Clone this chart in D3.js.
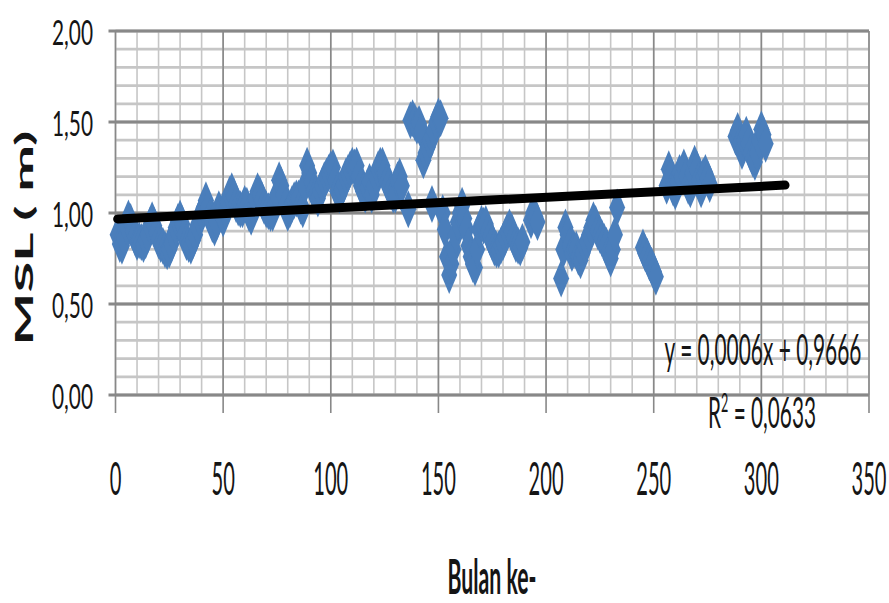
<!DOCTYPE html>
<html lang="id">
<head>
<meta charset="UTF-8">
<title>MSL per bulan</title>
<script src="https://d3js.org/d3.v7.min.js"></script>
<style>
  body { margin: 0; background: #fff; }
  svg { display: block; }
  text { font-family: Lato, "Liberation Sans", sans-serif; fill: #151515; }
</style>
</head>
<body>
<svg width="889" height="603"></svg>
<script>
// axis ticks
const xTicks = [0, 50, 100, 150, 200, 250, 300, 350];
const yTicks = [0, 0.5, 1.0, 1.5, 2.0];

// MSL (m) per month, in runs of consecutive months starting at startBulan[i]
const startBulan = [1, 136, 152, 193, 207, 245, 256, 288];
const msl1 = [
  0.88, 0.83, 0.82, 0.86, 0.93, 0.97, 0.95, 0.90, 0.87, 0.84, 0.85, 0.84,
  0.83, 0.85, 0.88, 0.93, 0.96, 0.93, 0.89, 0.85, 0.83, 0.82, 0.80, 0.79,
  0.80, 0.83, 0.88, 0.92, 0.95, 0.97, 0.94, 0.88, 0.84, 0.83, 0.82, 0.85,
  0.88, 0.93, 0.97, 1.00, 1.03, 1.07, 1.03, 0.98, 0.94, 0.92, 0.95, 1.02,
  1.00, 0.97, 1.01, 1.06, 1.10, 1.12, 1.09, 1.05, 1.03, 1.02, 1.02, 1.05,
  1.04, 1.00, 0.98, 1.02, 1.08, 1.12, 1.10, 1.07, 1.04, 1.02, 1.01, 1.00,
  1.00, 1.04, 1.10, 1.18, 1.15, 1.10, 1.04, 1.00, 1.02, 1.05, 1.07, 1.08,
  1.08, 1.04, 1.02, 1.15, 1.26, 1.22, 1.17, 1.12, 1.10, 1.08, 1.12, 1.15,
  1.18, 1.20, 1.22, 1.24, 1.25, 1.18, 1.12, 1.10, 1.13, 1.16, 1.20, 1.22,
  1.24, 1.26, 1.25, 1.26, 1.20, 1.15, 1.12, 1.10, 1.14, 1.17, 1.10, 1.15,
  1.20, 1.24, 1.26, 1.26, 1.22, 1.17, 1.15, 1.12, 1.10, 1.10, 1.18, 1.20, 1.15
];
const msl2 = [1.02, 1.51, 1.52, 1.50, 1.48, 1.49, 1.45, 1.29, 1.33, 1.36, 1.40, 1.42, 1.45, 1.50, 1.53, 1.52];
const msl3 = [
  1.00, 0.91, 0.76, 0.66, 0.72, 0.80, 0.88, 0.95, 1.00, 1.04, 0.97, 0.91,
  0.82, 0.76, 0.72, 0.70, 0.80, 0.91, 0.94, 0.93, 0.94, 0.90, 0.87, 0.84,
  0.81, 0.80, 0.80, 0.82, 0.84, 0.87, 0.90, 0.92, 0.90, 0.86, 0.83, 0.82,
  0.81, 0.84
];
const msl4 = [0.96, 1.00, 0.98, 0.95];
const msl5 = [
  0.64, 0.80, 0.92, 0.88, 0.82, 0.78, 0.80, 0.80, 0.76, 0.74, 0.78, 0.82,
  0.84, 0.88, 0.92, 0.96, 0.94, 0.90, 0.88, 0.86, 0.84, 0.82, 0.78, 0.75,
  0.80, 0.88, 1.03
];
const msl6 = [0.81, 0.78, 0.76, 0.73, 0.71, 0.68, 0.65];
const msl7 = [
  1.15, 1.24, 1.20, 1.14, 1.12, 1.17, 1.22, 1.20, 1.25, 1.20, 1.15, 1.13,
  1.22, 1.27, 1.24, 1.18, 1.13, 1.20, 1.22, 1.19, 1.16
];
const msl8 = [1.42, 1.45, 1.38, 1.34, 1.40, 1.43, 1.38, 1.33, 1.30, 1.28, 1.33, 1.40, 1.46, 1.43, 1.38];
const extraBulan = [147];
const extraMsl = [1.05];

// linear trend from Excel
const trendBulan = [1, 311];
const trendCoef = [0.0006, 0.9666];

const runs = [msl1, msl2, msl3, msl4, msl5, msl6, msl7, msl8];
const points = [];
runs.forEach((vals, i) => vals.forEach((v, j) => points.push({ x: startBulan[i] + j, y: v })));
extraBulan.forEach((b, i) => points.push({ x: b, y: extraMsl[i] }));

const svg = d3.select('svg');
svg.append('rect').attr('width', 889).attr('height', 603).attr('fill', '#fff');

const x = d3.scaleLinear().domain([0, 350]).range([115.5, 869]);
const y = d3.scaleLinear().domain([0, 2]).range([395, 31]);

// grid: minor first, then major
const grid = svg.append('g');
grid.selectAll('.vminor').data(d3.range(0, 351, 10)).enter().append('line')
  .attr('x1', d => x(d)).attr('x2', d => x(d)).attr('y1', y(2)).attr('y2', y(0))
  .attr('stroke', '#c6c6c6').attr('stroke-width', 1.6);
grid.selectAll('.hminor').data(d3.range(0, 2.001, 0.1)).enter().append('line')
  .attr('x1', x(0)).attr('x2', x(350)).attr('y1', d => y(d)).attr('y2', d => y(d))
  .attr('stroke', '#c6c6c6').attr('stroke-width', 2.8);
grid.selectAll('.vmajor').data(xTicks).enter().append('line')
  .attr('x1', d => x(d)).attr('x2', d => x(d)).attr('y1', y(2)).attr('y2', y(0) + 18)
  .attr('stroke', '#888').attr('stroke-width', 1.6);
grid.selectAll('.hmajor').data(yTicks).enter().append('line')
  .attr('x1', x(0) - 7).attr('x2', x(350)).attr('y1', d => y(d)).attr('y2', d => y(d))
  .attr('stroke', '#888').attr('stroke-width', 2.8);

// markers
svg.append('g').selectAll('path').data(points).enter().append('path')
  .attr('d', 'M0,-19L8,0L0,19L-8,0Z')
  .attr('transform', d => `translate(${x(d.x)},${y(d.y)})`)
  .attr('fill', '#4a7ebb');

// trendline
svg.append('line')
  .attr('x1', x(trendBulan[0])).attr('y1', y(trendCoef[0] * trendBulan[0] + trendCoef[1]))
  .attr('x2', x(trendBulan[1])).attr('y2', y(trendCoef[0] * trendBulan[1] + trendCoef[1]))
  .attr('stroke', '#000').attr('stroke-width', 9).attr('stroke-linecap', 'round');

// squeeze a text element horizontally to a given width
function squeeze(t, tx, ty, w, rot) {
  const len = t.node().getComputedTextLength();
  const s = w / len;
  t.attr('transform', `translate(${tx},${ty})${rot ? ' rotate(' + rot + ')' : ''} scale(${s},1)`);
  return s;
}

const comma = d => d3.format('.2f')(d).replace('.', ',');

// y tick labels
yTicks.forEach(d => {
  const t = svg.append('text').attr('text-anchor', 'end').attr('font-size', 34).text(comma(d));
  squeeze(t, 93, y(d) + 14, 41);
});

// x tick labels
const probe = svg.append('text').attr('font-size', 46).text('100');
const sx = 35 / probe.node().getComputedTextLength();
probe.remove();
xTicks.forEach(d => {
  svg.append('text').attr('text-anchor', 'middle').attr('font-size', 46).text(d)
    .attr('transform', `translate(${x(d)},495) scale(${sx},1)`);
});

// axis titles
const yt = svg.append('text').attr('text-anchor', 'middle').attr('font-size', 25)
  .attr('font-weight', 'bold').text('MSL ( m)');
squeeze(yt, 33, 238, 215, -90);

const xt = svg.append('text').attr('text-anchor', 'middle').attr('font-size', 48)
  .attr('font-weight', 'bold').text('Bulan ke-');
squeeze(xt, 492, 594, 89);

// trend equation
const eq = svg.append('text').attr('text-anchor', 'middle').attr('font-size', 42)
  .text('y = 0,0006x + 0,9666');
squeeze(eq, 763, 365, 197);

const r2 = svg.append('text').attr('text-anchor', 'middle').attr('font-size', 43);
r2.append('tspan').text('R');
r2.append('tspan').attr('font-size', 26).attr('dy', -16).text('2');
r2.append('tspan').attr('dy', 16).text(' = 0,0633');
squeeze(r2, 762, 428, 108);
</script>
</body>
</html>
